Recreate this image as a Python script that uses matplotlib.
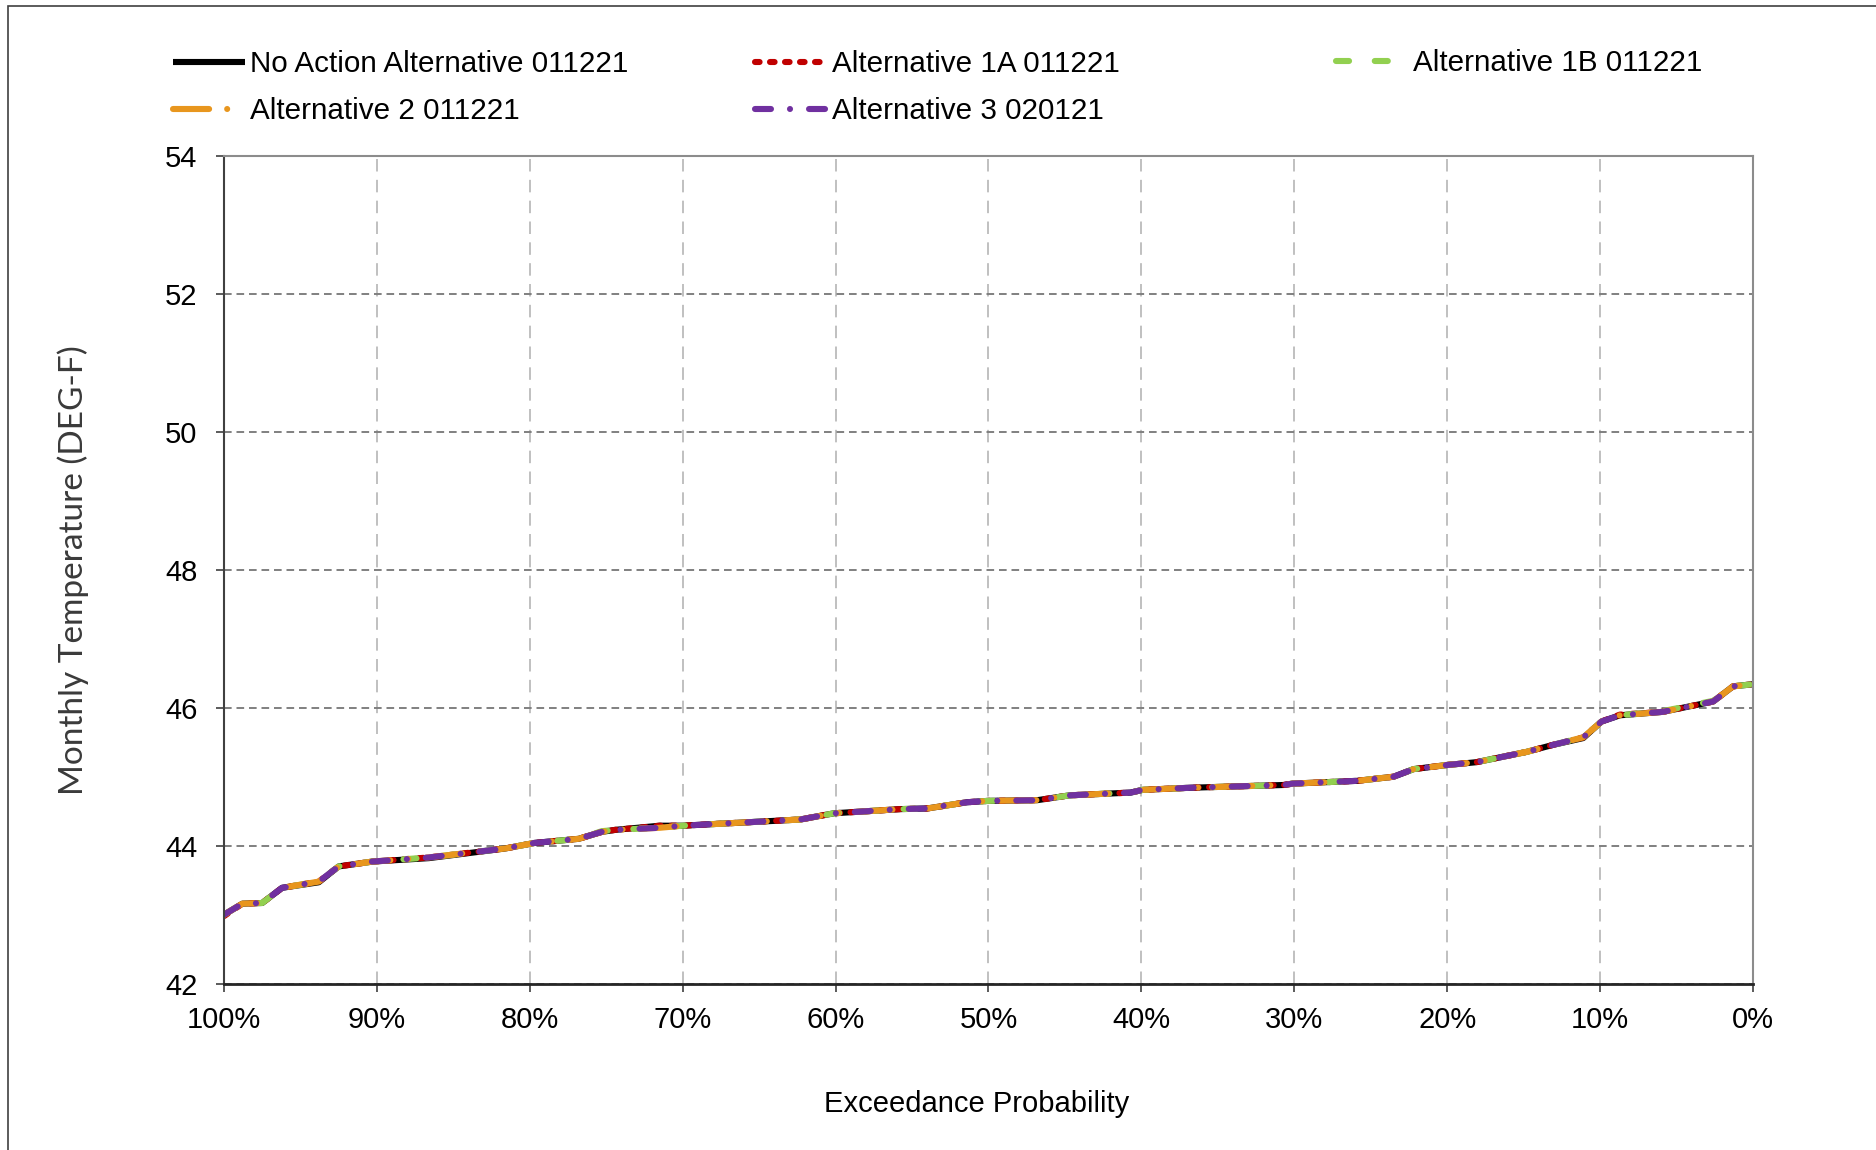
import matplotlib
matplotlib.use("Agg")
import matplotlib.pyplot as plt
from matplotlib.patches import Rectangle
from matplotlib.ticker import FixedLocator, FuncFormatter

# exceedance probability (%) and monthly temperature (DEG-F)
prob = [100.0, 98.8, 97.5, 96.2, 93.8, 92.5, 90.3, 86.6, 81.6, 79.7, 76.8, 75.3, 74.4, 71.5,
        70.0, 62.3, 60.1, 55.8, 54.0, 51.4, 50.0, 46.8, 44.7, 40.7, 39.9, 36.8, 30.7, 30.1,
        25.9, 23.5, 22.2, 20.0, 18.1, 14.8, 13.1, 11.1, 9.9, 8.7, 5.9, 2.6, 1.3, 0.0]
no_action = [43.00, 43.16, 43.17, 43.39, 43.47, 43.70, 43.77, 43.82, 43.96, 44.04, 44.10, 44.20, 44.23, 44.29,
             44.29, 44.38, 44.47, 44.53, 44.54, 44.63, 44.65, 44.66, 44.73, 44.77, 44.81, 44.84, 44.88, 44.90,
             44.94, 45.00, 45.11, 45.17, 45.21, 45.36, 45.46, 45.56, 45.80, 45.89, 45.94, 46.09, 46.31, 46.34]
alt_1a = [42.98, 43.16, 43.17, 43.39, 43.48, 43.70, 43.77, 43.83, 43.96, 44.04, 44.10, 44.20, 44.23, 44.29,
          44.29, 44.38, 44.47, 44.53, 44.54, 44.63, 44.65, 44.66, 44.73, 44.77, 44.81, 44.84, 44.88, 44.90,
          44.94, 45.00, 45.11, 45.17, 45.21, 45.36, 45.46, 45.57, 45.80, 45.90, 45.94, 46.09, 46.31, 46.34]
alt_1b = [43.00, 43.16, 43.17, 43.39, 43.48, 43.70, 43.77, 43.83, 43.96, 44.04, 44.10, 44.21, 44.23, 44.26,
          44.29, 44.38, 44.47, 44.53, 44.54, 44.63, 44.65, 44.66, 44.73, 44.77, 44.81, 44.84, 44.88, 44.90,
          44.94, 45.00, 45.11, 45.17, 45.21, 45.36, 45.46, 45.57, 45.80, 45.89, 45.95, 46.10, 46.31, 46.34]
alt_2 = [43.00, 43.16, 43.17, 43.39, 43.48, 43.70, 43.77, 43.83, 43.96, 44.04, 44.10, 44.20, 44.23, 44.26,
         44.29, 44.38, 44.47, 44.53, 44.54, 44.63, 44.65, 44.66, 44.73, 44.77, 44.81, 44.84, 44.88, 44.90,
         44.94, 45.00, 45.11, 45.17, 45.21, 45.36, 45.46, 45.57, 45.80, 45.89, 45.94, 46.09, 46.31, 46.34]
alt_3 = [43.00, 43.16, 43.17, 43.39, 43.48, 43.70, 43.77, 43.83, 43.96, 44.04, 44.10, 44.20, 44.23, 44.26,
         44.29, 44.38, 44.47, 44.53, 44.54, 44.63, 44.65, 44.66, 44.73, 44.77, 44.81, 44.84, 44.88, 44.90,
         44.94, 45.00, 45.11, 45.17, 45.21, 45.36, 45.46, 45.57, 45.80, 45.89, 45.94, 46.09, 46.31, 46.34]

labels = ["No Action Alternative 011221", "Alternative 1A 011221", "Alternative 1B 011221",
          "Alternative 2 011221", "Alternative 3 020121"]
x_ticks = [100, 90, 80, 70, 60, 50, 40, 30, 20, 10, 0]
y_ticks = [42, 44, 46, 48, 50, 52, 54]

plt.rcParams['font.family'] = ['Liberation Sans', 'DejaVu Sans']
plt.rcParams['lines.scale_dashes'] = False
fs = 21
lw = 4.4

fig = plt.figure(figsize=(18.76, 11.5), dpi=100)
ax = fig.add_axes([0.1194, 0.1446, 0.8150, 0.7200])

l0, = ax.plot(prob, no_action, c='black', lw=lw, solid_capstyle='butt')
l1, = ax.plot(prob, alt_1a, c='#C00000', lw=lw, ls=(0, (3.3, 7.5)), dash_capstyle='round')
l2, = ax.plot(prob, alt_1b, c='#92D050', lw=lw, ls=(0, (9.4, 18.5)), dash_capstyle='round')
l3, = ax.plot(prob, alt_2, c='#E8961E', lw=lw, ls=(0, (26, 13, 0.01, 13)), dash_capstyle='round')
l4, = ax.plot(prob, alt_3, c='#7030A0', lw=lw, ls=(0, (11.5, 13.7, 0.01, 13.7)), dash_capstyle='round')

ax.set_xlim(100, 0)
ax.set_ylim(42, 54)
ax.xaxis.set_major_locator(FixedLocator(x_ticks))
ax.xaxis.set_major_formatter(FuncFormatter(lambda v, p: '%d%%' % round(v)))
ax.set_yticks(y_ticks)

ax.yaxis.grid(True, color='#808080', lw=1.4, ls=(0, (5.5, 3.5)))
ax.xaxis.grid(True, color='#C0C0C0', lw=1.4, ls=(0, (9, 6)))
ax.set_axisbelow(True)

ax.spines['left'].set_color('#404040')
ax.spines['bottom'].set_color('#262626')
ax.spines['top'].set_color('#8C8C8C')
ax.spines['right'].set_color('#8C8C8C')
for s in ['left', 'top', 'right']:
    ax.spines[s].set_linewidth(1.5)
ax.spines['bottom'].set_linewidth(2.0)

ax.tick_params(axis='y', direction='out', length=6, width=1.2, color='#404040', pad=13, labelsize=fs)
ax.tick_params(axis='x', direction='out', length=6, width=1.2, color='#404040', pad=10, labelsize=fs)

ax.set_xlabel('Exceedance Probability', fontsize=fs)
ax.xaxis.set_label_coords(0.492, -0.128)
ax.set_ylabel('Monthly Temperature (DEG-F)', fontsize=24, color='#3A3A3A', labelpad=55,
              family=['Lato', 'DejaVu Sans'])

leg_kw = dict(frameon=False, fontsize=21.3, handlelength=2.45, handletextpad=0.15,
              labelspacing=0.64, borderpad=0, borderaxespad=0, loc='center left')
leg1 = fig.legend([l0, l3], [labels[0], labels[3]], bbox_to_anchor=(0.0922, 0.924), **leg_kw)
leg2 = fig.legend([l1, l4], [labels[1], labels[4]], bbox_to_anchor=(0.4025, 0.924), **leg_kw)
leg3 = fig.legend([l2], [labels[2]], bbox_to_anchor=(0.7122, 0.945), **leg_kw)

# outer chart border
fig.patches.append(Rectangle((8 / 1876, -0.05), 1.1, 1 - 6 / 1150 + 0.05, transform=fig.transFigure,
                             fill=False, ec='#404040', lw=1.2, clip_on=False))

fig.savefig('out.png', dpi=100)
